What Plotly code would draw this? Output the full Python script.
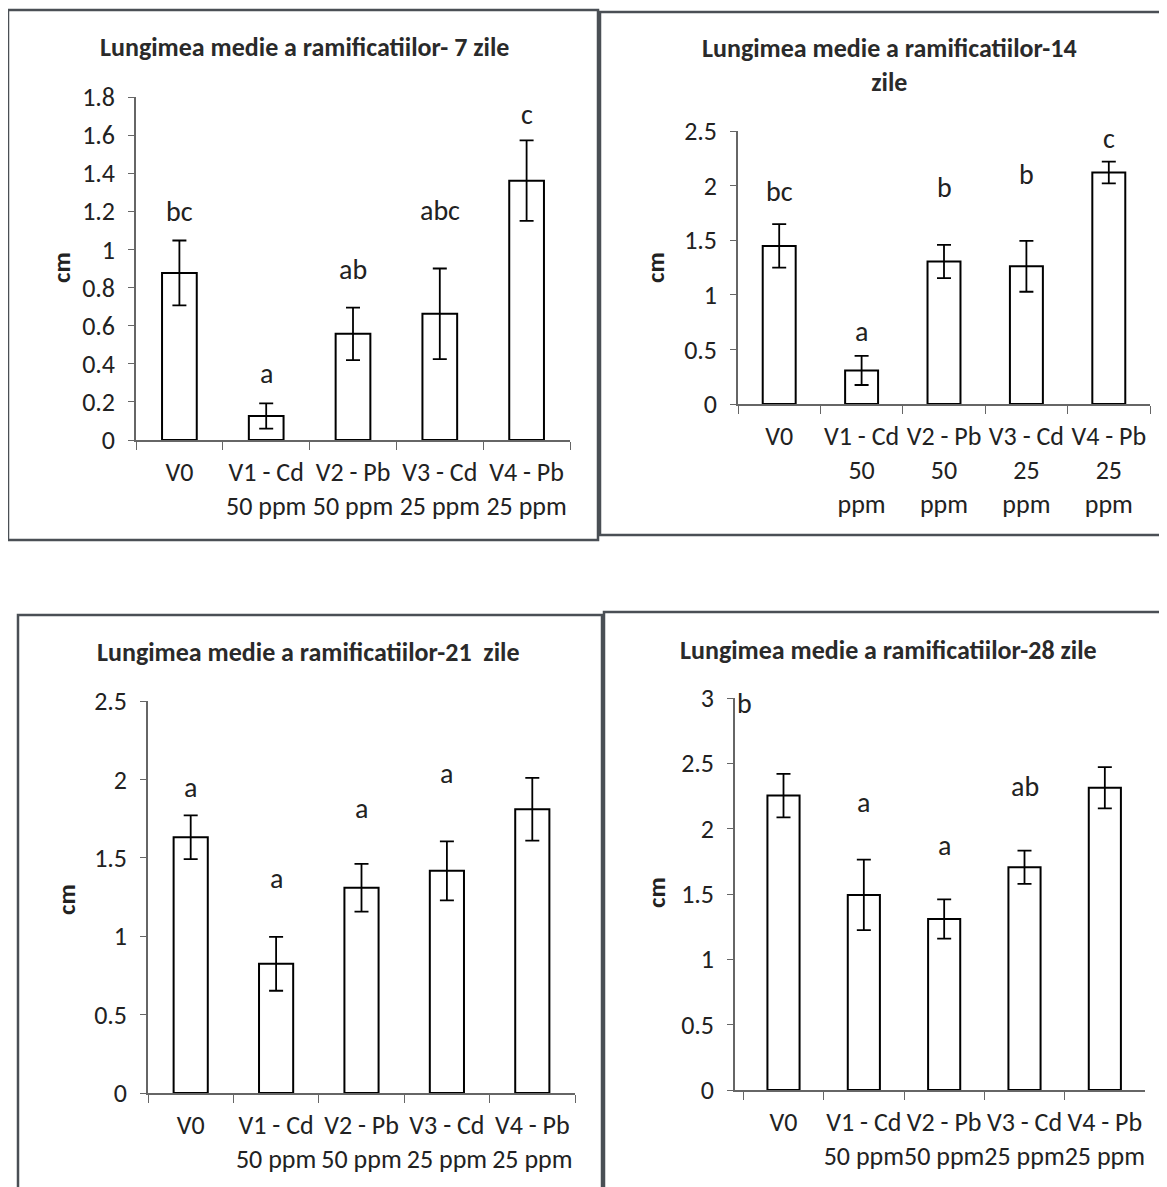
import plotly.graph_objects as go

# ---------------- data ----------------
cats_a = ["V0", "V1 - Cd<br>50 ppm", "V2 - Pb<br>50 ppm", "V3 - Cd<br>25 ppm", "V4 - Pb<br>25 ppm"]
cats_b = ["V0", "V1 - Cd<br>50<br>ppm", "V2 - Pb<br>50<br>ppm", "V3 - Cd<br>25<br>ppm", "V4 - Pb<br>25<br>ppm"]

titles = ["Lungimea medie a ramificatiilor- 7 zile",
          "Lungimea medie a ramificatiilor-14<br>zile",
          "Lungimea medie a ramificatiilor-21  zile",
          "Lungimea medie a ramificatiilor-28 zile"]

mean_7 = [0.877, 0.126, 0.557, 0.662, 1.361]
err_7 = [0.17, 0.066, 0.138, 0.238, 0.211]
letters_7 = ["bc", "a", "ab", "abc", "c"]
letter_y_7 = [1.197, 0.347, 0.895, 1.206, 1.709]

mean_14 = [1.448, 0.307, 1.305, 1.261, 2.12]
err_14 = [0.2, 0.133, 0.152, 0.233, 0.1]
letters_14 = ["bc", "a", "b", "b", "c"]
letter_y_14 = [1.95, 0.665, 1.98, 2.10, 2.435]

mean_21 = [1.631, 0.824, 1.309, 1.417, 1.81]
err_21 = [0.14, 0.172, 0.152, 0.188, 0.2]
letters_21 = ["a", "a", "a", "a", "a"]
letter_y_21 = [1.95, 1.368, 1.815, 2.038, 2.545]

mean_28 = [2.253, 1.493, 1.309, 1.705, 2.313]
err_28 = [0.167, 0.27, 0.15, 0.127, 0.158]
letters_28 = ["b", "a", "a", "ab", "b"]
letter_y_28 = [2.96, 2.198, 1.868, 2.32, 3.05]

OFF = 8  # page body margin
W, H = 1167 - OFF, 1187 - OFF
FONT = "Carlito, Calibri, Lato, sans-serif"

def px(x):
    return (x - OFF) / W

def py(y):
    return 1 - (y - OFF) / H

panels = [
    dict(cats=cats_a, m=mean_7, e=err_7, l=letters_7, ly=letter_y_7, t=titles[0],
         xd=(136, 570), yd=(440, 97), yr=[0, 1.8], dt=0.2, tpos=(304, 47), box=(8, 10, 598, 540),
         cm=(62, 268)),
    dict(cats=cats_b, m=mean_14, e=err_14, l=letters_14, ly=letter_y_14, t=titles[1],
         xd=(738, 1150), yd=(404, 131), yr=[0, 2.5], dt=0.5, tpos=(890, 65), box=(600, 12, 1175, 535),
         cm=(656, 268)),
    dict(cats=cats_a, m=mean_21, e=err_21, l=letters_21, ly=letter_y_21, t=titles[2],
         xd=(148, 575), yd=(1093, 701), yr=[0, 2.5], dt=0.5, tpos=(308, 652), box=(18, 615, 602, 1195),
         cm=(66, 900)),
    dict(cats=cats_a, m=mean_28, e=err_28, l=letters_28, ly=letter_y_28, t=titles[3],
         xd=(735, 1145), yd=(1090, 698), yr=[0, 3], dt=0.5, tpos=(888, 650), box=(604, 612, 1175, 1195),
         cm=(656, 893)),
]

fig = go.Figure()
annotations = []
shapes = []

for i, p in enumerate(panels):
    n = "" if i == 0 else str(i + 1)
    xa, ya = "x" + n, "y" + n
    fig.add_trace(go.Bar(
        x=p["cats"], y=p["m"], xaxis=xa, yaxis=ya,
        marker=dict(color="white", line=dict(color="black", width=2)),
        error_y=dict(type="data", array=p["e"], visible=True, color="black", thickness=1.8, width=7),
        showlegend=False, hoverinfo="skip",
    ))
    for j, (c, lt, lyv) in enumerate(zip(p["cats"], p["l"], p["ly"])):
        xs = 0
        if i == 3 and j == 0:
            xs = -39
        annotations.append(dict(x=c, y=lyv, xref=xa, yref=ya, text=lt, showarrow=False,
                                xshift=xs, yanchor="middle",
                                font=dict(family=FONT, size=28, color="#222")))
    annotations.append(dict(x=px(p["tpos"][0]), y=py(p["tpos"][1]), xref="paper", yref="paper",
                            text="<b>" + p["t"] + "</b>", showarrow=False, xanchor="center", yanchor="middle",
                            font=dict(family=FONT, size=26, color="#2a2a2a")))
    annotations.append(dict(x=px(p["cm"][0]), y=py(p["cm"][1]), xref="paper", yref="paper",
                            text="<b>cm</b>", textangle=-90, showarrow=False,
                            xanchor="center", yanchor="middle",
                            font=dict(family=FONT, size=25, color="#222")))
    bx0, by0, bx1, by1 = p["box"]
    shapes.append(dict(type="rect", xref="paper", yref="paper",
                       x0=px(bx0), x1=px(bx1), y0=py(by1), y1=py(by0),
                       line=dict(color="#4a4f55", width=2.5), fillcolor="rgba(0,0,0,0)"))

    xkey = "xaxis" + n
    ykey = "yaxis" + n
    fig.update_layout(**{
        xkey: dict(domain=[px(p["xd"][0]), px(p["xd"][1])], anchor=ya, automargin=False,
                   type="category", showline=True, linecolor="#666", linewidth=1.5,
                   ticks="outside", tickson="boundaries", ticklen=8, tickcolor="#666",
                   showgrid=False, zeroline=False, tickangle=0, ticklabelstandoff=8,
                   tickfont=dict(family=FONT, size=26, color="#222")),
        ykey: dict(domain=[py(p["yd"][0]), py(p["yd"][1])], anchor=xa, automargin=False,
                   range=p["yr"], dtick=p["dt"], tick0=0,
                   showline=True, linecolor="#666", linewidth=1.5,
                   ticks="outside", ticklen=6, tickcolor="#666",
                   showgrid=False, zeroline=False, ticklabelstandoff=8,
                   tickfont=dict(family=FONT, size=26, color="#222")),
    })

fig.update_layout(
    width=W, height=H,
    margin=dict(l=0, r=0, t=0, b=0, pad=0),
    paper_bgcolor="white", plot_bgcolor="white",
    bargap=0.6,
    annotations=annotations,
    shapes=shapes,
)

fig.write_html("out.html")
